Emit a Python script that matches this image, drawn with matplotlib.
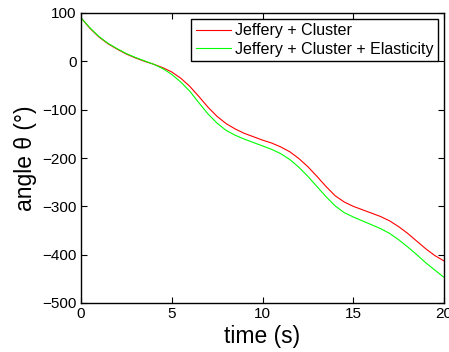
import matplotlib
matplotlib.use("Agg")
import matplotlib.pyplot as plt

plt.rcParams['font.family'] = ['Liberation Sans', 'DejaVu Sans']

time_s = [0, 0.5, 1, 1.5, 2, 2.5, 3, 3.5, 4, 4.5, 5, 5.5, 6, 6.5, 7, 7.5, 8, 8.5, 9, 9.5,
          10, 10.5, 11, 11.5, 12, 12.5, 13, 13.5, 14, 14.5, 15, 15.5, 16, 16.5, 17, 17.5,
          18, 18.5, 19, 19.5, 20]
jeffery_cluster = [90, 68, 50, 36, 25, 15, 7, 0, -6, -13, -22, -35, -52, -73, -95, -114,
                   -129, -140, -149, -156, -163, -169, -177, -187, -201, -218, -238, -259,
                   -278, -291, -300, -307, -314, -321, -330, -342, -356, -372, -388, -402, -413]
jeffery_cluster_elastic = [90, 69, 51, 37, 26, 16, 8, 1, -6, -15, -27, -43, -62, -86, -109,
                           -128, -143, -153, -161, -168, -175, -182, -191, -203, -219, -238,
                           -259, -280, -299, -313, -322, -330, -338, -346, -356, -369, -384,
                           -400, -417, -432, -447]
labels = ["Jeffery + Cluster", "Jeffery + Cluster + Elasticity"]

fig = plt.figure(figsize=(4.49, 3.52), dpi=100)
ax = fig.add_axes([81/449, 49/352, 363/449, 290/352])
ax.plot(time_s, jeffery_cluster, color="#ff0000", lw=0.8, label=labels[0])
ax.plot(time_s, jeffery_cluster_elastic, color="#00ff00", lw=0.8, label=labels[1])
ax.set_xlim(0, 20)
ax.set_ylim(-500, 100)
ax.set_xticks([0, 5, 10, 15, 20])
ax.set_yticks([-500, -400, -300, -200, -100, 0, 100])
ax.tick_params(direction="in", top=True, right=True, labelsize=11, length=4, pad=3)
for s in ax.spines.values():
    s.set_linewidth(1.0)
ax.set_xlabel("time (s)", fontsize=16.5, labelpad=2.5)
ax.set_ylabel("angle θ (°)", fontsize=16.5, labelpad=4)
leg = ax.legend(loc="upper right", fontsize=11.5, frameon=True, fancybox=False,
                edgecolor="black", framealpha=1, borderaxespad=0.35, handlelength=2.2,
                handletextpad=0.25, borderpad=0.3, labelspacing=0.2)
leg.get_frame().set_linewidth(1.0)
fig.savefig("out.png", dpi=100)
